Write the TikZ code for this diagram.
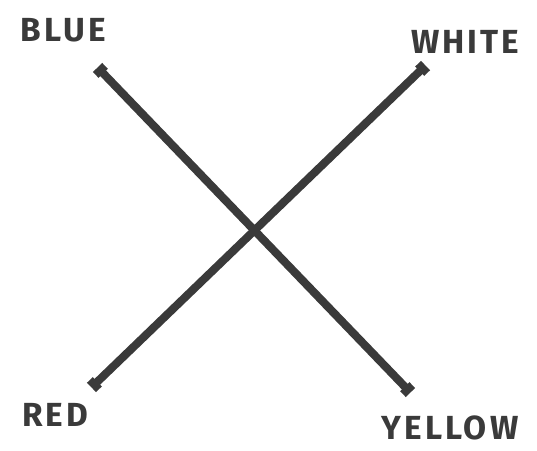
\documentclass[tikz,border=0pt]{standalone}
\usepackage{fontspec}
\setsansfont{Fira Sans}[LetterSpace=9]
\usetikzlibrary{arrows.meta}
\definecolor{ink}{HTML}{3A3A3A}
\tikzset{
  label/.style={font=\sffamily\bfseries\fontsize{19}{19}\selectfont, text=ink, inner sep=0pt},
  stick/.style={{Bar[width=2.6mm,length=1.4mm]}-{Bar[width=2.6mm,length=1.4mm]}, line width=4.6pt, draw=ink, shorten >=-0.7mm, shorten <=-0.7mm}
}
\begin{document}
\begin{tikzpicture}
  \useasboundingbox (0,0) rectangle (10.74,9);
  \coordinate (bluetop) at (2.0,7.6);
  \coordinate (blueend) at (8.16,1.2);
  \coordinate (whitetop) at (8.46,7.64);
  \coordinate (whiteend) at (1.88,1.3);
  \node[label] (blue) at (1.26,8.4) {BLUE};
  \node[label] (white) at (9.3,8.16) {WHITE};
  \node[label] (red) at (1.1,0.7) {RED};
  \node[label] (yellow) at (9.0,0.44) {YELLOW};
  \draw[stick] (bluetop) -- (blueend);
  \draw[stick] (whitetop) -- (whiteend);
\end{tikzpicture}
\end{document}
